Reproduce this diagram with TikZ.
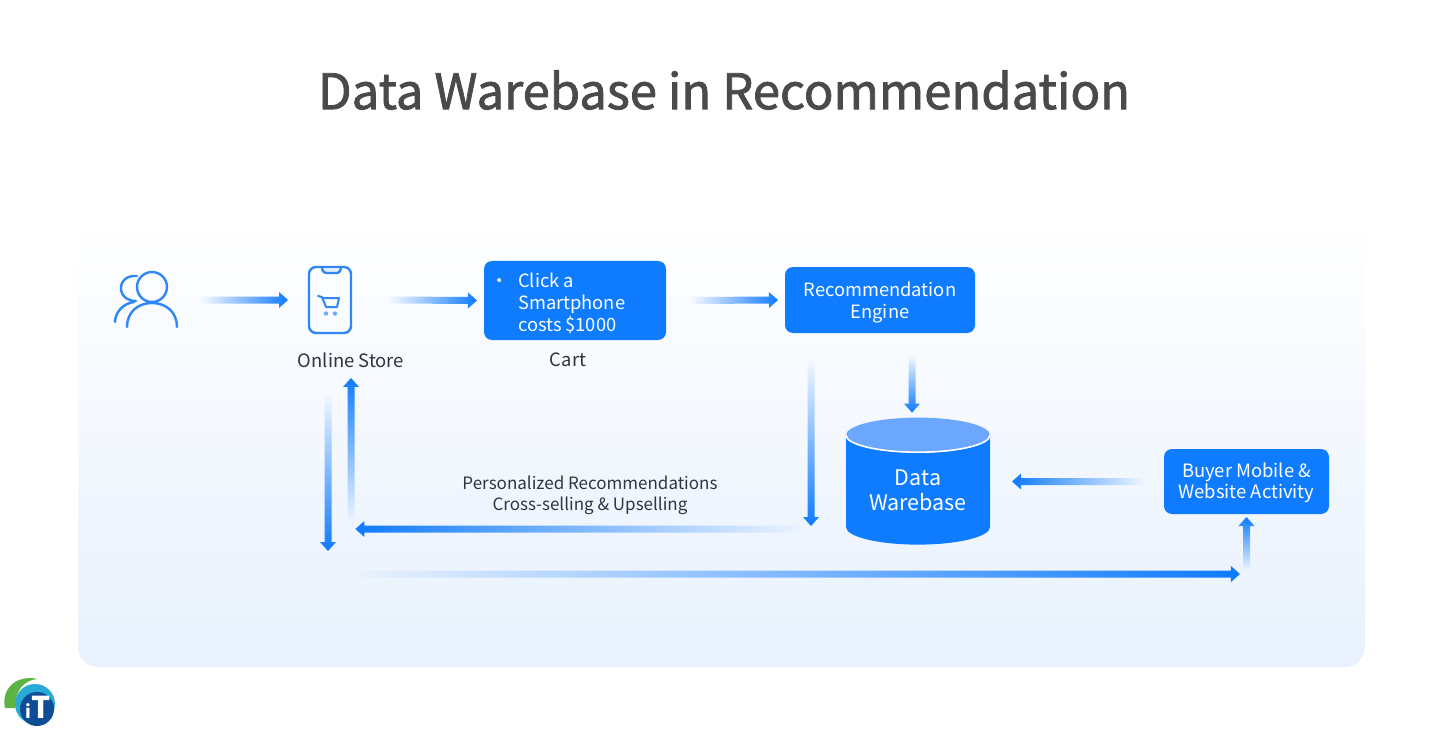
\documentclass[tikz,border=0pt]{standalone}
\usepackage{fontspec}
\setmainfont{Noto Sans CJK SC}
\newfontfamily\titlefont[FakeBold=1.6]{Noto Sans CJK SC}
\usetikzlibrary{shapes.geometric, calc, fadings}
\definecolor{flowblue}{HTML}{0F7BFF}
\definecolor{iconblue}{HTML}{2F86F6}
\definecolor{toplight}{HTML}{6BA6FF}
\definecolor{panelblue}{HTML}{E8F1FD}
\definecolor{titlegray}{HTML}{4A4A4A}
\definecolor{labeldark}{HTML}{2E3440}
\definecolor{logogreen}{HTML}{5BB544}
\definecolor{logoteal}{HTML}{29A9D6}
\definecolor{logonavy}{HTML}{0F4C96}
\tikzfading[name=flowfade, left color=transparent!100, right color=transparent!0]
\tikzstyle{box} = [rectangle, rounded corners=8pt, fill=flowblue, text=white, align=center, outer sep=0pt, font=\fontsize{18.3}{22}\selectfont]
\tikzstyle{label} = [text=labeldark, align=center, font=\fontsize{18.4}{21}\selectfont]
\tikzstyle{icon} = [iconblue, line width=2.4pt, line cap=round, line join=round]
\tikzstyle{flow} = [fill=flowblue, path fading=flowfade, to path={
   ($(\tikztostart)!3.5pt!90:(\tikztotarget)$)
   -- ($(\tikztotarget)!9pt!(\tikztostart)!3.5pt!90:(\tikztotarget)$)
   -- ($(\tikztotarget)!9pt!(\tikztostart)!8pt!90:(\tikztotarget)$)
   -- (\tikztotarget)
   -- ($(\tikztotarget)!9pt!(\tikztostart)!8pt!-90:(\tikztotarget)$)
   -- ($(\tikztotarget)!9pt!(\tikztostart)!3.5pt!-90:(\tikztotarget)$)
   -- ($(\tikztostart)!3.5pt!-90:(\tikztotarget)$) -- cycle}]
\tikzstyle{flowe} = [flow, fading angle=0]
\tikzstyle{flown} = [flow, fading angle=90]
\tikzstyle{floww} = [flow, fading angle=180]
\tikzstyle{flows} = [flow, fading angle=270]

\begin{document}
\begin{tikzpicture}[x=1pt, y=-1pt]
   \useasboundingbox (0,0) rectangle (1454,730);
   \shade [rounded corners=20pt, top color=white, bottom color=panelblue] (78,215) rectangle (1365,667);
   \node (title) at (724,90) [text=titlegray, font=\titlefont\fontsize{49}{56}\selectfont] {Data Warebase in Recommendation};
   % top row
   \node (user) at (146,300) [minimum width=67pt, minimum height=60pt, inner sep=0pt] {};
   \node (store) at (330,300) [draw=iconblue, line width=2.4pt, rounded corners=7pt, minimum width=42pt, minimum height=66pt, inner sep=0pt, outer sep=0pt] {};
   \node (storelabel) at (351,360) [label] {Online Store};
   \node (cart) at (575,300.5) [box, minimum width=182pt, minimum height=79pt, text depth=19pt] {\begin{tabular}{@{}l@{\hspace{9pt}}l@{}}•&Click a\\&Smartphone\\&costs \$1000\end{tabular}\hspace{34pt}};
   \node (cartlabel) at (568,360) [label] {Cart};
   \node (engine) at (880,300) [box, minimum width=190pt, minimum height=66pt, text depth=0pt] {Recommendation\\Engine};
   % lower row
   \node (db) at (918,490) [cylinder, shape border rotate=90, aspect=0.36, cylinder uses custom fill, cylinder body fill=flowblue, cylinder end fill=toplight, minimum width=144pt, minimum height=127pt, inner sep=0pt, outer sep=0pt, text=white, align=center, font=\fontsize{21.5}{25}\selectfont] {Data\\Warebase};
   \draw [white, line width=1.6pt] (db.before top) arc [start angle=180, end angle=0, x radius=72, y radius=17];
   \node (buyer) at (1246.5,481.5) [box, minimum width=165pt, minimum height=65pt, text depth=2pt, font=\fontsize{18.4}{21}\selectfont] {Buyer Mobile \&\\Website Activity};
   \node (offer) at (590,495.5) [label, font=\fontsize{17}{21}\selectfont] {Personalized Recommendations\\Cross-selling \& Upselling};
   \coordinate (engineturn) at (805,529);
   \coordinate (storeturn) at (345,574);
   \coordinate (storeback) at (355,529);
   \coordinate (storedown) at (328,551);
   % user icon
   \draw [icon] (152,287) circle (15);
   \draw [icon] (127,327) .. controls (127,312) and (138,303) .. (152,303) .. controls (166,303) and (177,312) .. (177,327);
   \draw [icon] (137,276) .. controls (126,275) and (120,282) .. (121,290) .. controls (122,297) and (128,301) .. (136,301);
   \draw [icon] (115,322) .. controls (115,312) and (124,303) .. (134,302);
   % phone icon
   \draw [icon, fill=iconblue!15] (322,268) .. controls (323,272) and (324,273) .. (326,273) -- (337,273) .. controls (339,273) and (340,272) .. (341,268);
   \draw [icon, line width=2pt] (318,296) -- (322,297) -- (326,307) -- (337,307) -- (339,298) -- (323,298);
   \fill [iconblue!70] (326,313.5) circle (2.2) (335,313.5) circle (2.2);
   % connectors
   \path [flowe] ([xshift=20pt]user.east) to ([xshift=-21pt]store.west);
   \path [flowe] ([xshift=37pt]store.east) to ([xshift=-7pt]cart.west);
   \path [flowe] ([xshift=24pt]cart.east) to ([xshift=-7pt]engine.west);
   \path [flows] ([xshift=32pt, yshift=-22pt]engine.south) to ([xshift=-6pt, yshift=5pt]db.north);
   \path [flows] ([xshift=-69pt, yshift=-25pt]engine.south) to ([xshift=-69pt, yshift=-193pt]engine.south);
   \path [floww] (engineturn) to (storeback);
   \path [flown] ([yshift=6pt]storeback -| storelabel) to ([yshift=-7pt]storelabel.south);
   \path [flows] ([xshift=-23pt, yshift=-22pt]storelabel.south) to (storedown);
   \path [flowe] (storeturn) to ([xshift=-6pt, yshift=-60pt]buyer.south);
   \path [flown] ([yshift=-56pt]buyer.south) to ([yshift=-3pt]buyer.south);
   \path [floww] ([xshift=-19pt]buyer.west) to ([xshift=22pt]buyer.west -| db.east);
   % logo
   \fill [logogreen] (5,708) .. controls (1,690) and (15,674) .. (38,679) .. controls (24,680) and (15,690) .. (15,708) -- cycle;
   \fill [logoteal] (35,704) circle (20);
   \fill [logonavy] (37,709) circle (17);
   \node (logotext) at (38,707) [text=white, font=\bfseries\fontsize{30}{30}\selectfont] {{\fontsize{18}{18}\selectfont i}T};
\end{tikzpicture}
\end{document}
